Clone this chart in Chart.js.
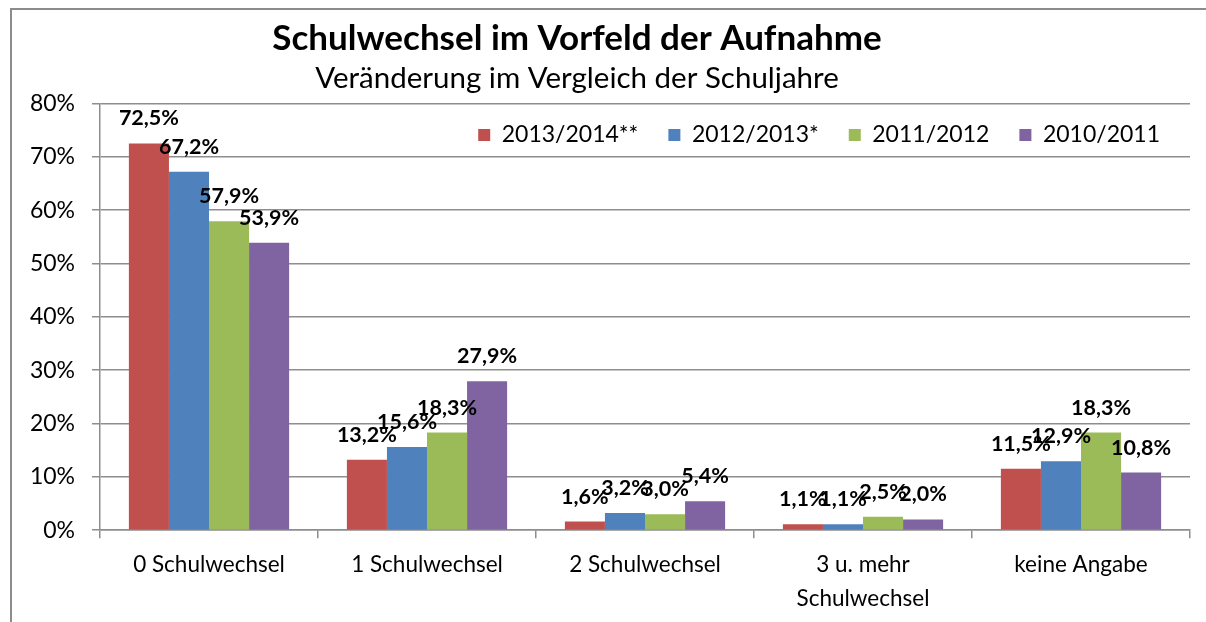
<!DOCTYPE html>
<html lang="de">
<head>
  <meta charset="UTF-8" />
  <title>Schulwechsel im Vorfeld der Aufnahme</title>
  <script src="https://cdn.jsdelivr.net/npm/chart.js"></script>
  <style>
    body {
      margin: 0;
      background: #fff;
      overflow: hidden;
    }
    #wrap {
      position: relative;
      width: 1206px;
      height: 622px;
    }
    #frame {
      position: absolute;
      left: 10px;
      top: 8px;
      width: 1300px;
      height: 700px;
      border-left: 2px solid #8c8c8c;
      border-top: 2px solid #8c8c8c;
      pointer-events: none;
    }
  </style>
</head>
<body>
  <div id="wrap">
    <canvas id="chart" width="1206" height="622"></canvas>
    <div id="frame"></div>
  </div>

  <script>
    const categories = ["0 Schulwechsel", "1 Schulwechsel", "2 Schulwechsel", ["3 u. mehr", "Schulwechsel"], "keine Angabe"];
    const seriesNames = ["2013/2014**", "2012/2013*", "2011/2012", "2010/2011"];
    const values2013_2014 = [72.5, 13.2, 1.6, 1.1, 11.5];
    const values2012_2013 = [67.2, 15.6, 3.2, 1.1, 12.9];
    const values2011_2012 = [57.9, 18.3, 3.0, 2.5, 18.3];
    const values2010_2011 = [53.9, 27.9, 5.4, 2.0, 10.8];
    const yTicks = [0, 10, 20, 30, 40, 50, 60, 70, 80];

    const colors = ["#c0504d", "#4f81bd", "#9bbb59", "#8064a2"];
    const font = "Lato, 'Open Sans', sans-serif";
    const gridColor = "#8e8e8e";

    const fmt = v => v.toFixed(1).replace(".", ",") + "%";

    // legend sits inside the plot area like in the Excel original:
    // reserve only a few pixels for it, then give it its real height back for drawing
    const legendOverlap = {
      id: "legendOverlap",
      beforeLayout(chart) {
        const lg = chart.legend;
        if (lg && !lg._wrapped) {
          const orig = lg.fit;
          lg.fit = function () {
            orig.call(this);
            this._fullHeight = this.height;
            this.height = 10;
          };
          lg._wrapped = true;
        }
      },
      afterLayout(chart) {
        const lg = chart.legend;
        if (lg && lg._fullHeight) {
          lg.height = lg._fullHeight;
          lg.bottom = lg.top + lg._fullHeight;
        }
      }
    };

    const valueLabels = {
      id: "valueLabels",
      afterDatasetsDraw(chart) {
        const ctx = chart.ctx;
        ctx.save();
        ctx.font = "bold 21.5px " + font;
        ctx.fillStyle = "#000";
        ctx.textAlign = "center";
        ctx.textBaseline = "alphabetic";
        chart.data.datasets.forEach((ds, i) => {
          const meta = chart.getDatasetMeta(i);
          meta.data.forEach((bar, j) => {
            ctx.fillText(fmt(ds.data[j]), bar.x, bar.y - 18);
          });
        });
        ctx.restore();
      }
    };

    const seriesValues = [values2013_2014, values2012_2013, values2011_2012, values2010_2011];

    new Chart(document.getElementById("chart"), {
      type: "bar",
      data: {
        labels: categories,
        datasets: seriesNames.map((name, i) => ({
          label: name,
          data: seriesValues[i],
          backgroundColor: colors[i],
          borderWidth: 0,
          categoryPercentage: 0.735,
          barPercentage: 1
        }))
      },
      options: {
        responsive: false,
        animation: false,
        layout: {
          padding: { left: -36, right: 16, top: 0, bottom: -3 }
        },
        plugins: {
          title: {
            display: true,
            text: "Schulwechsel im Vorfeld der Aufnahme",
            color: "#000",
            font: { family: font, size: 35, weight: "bold", lineHeight: 1.0 },
            padding: { top: 21, bottom: 0 }
          },
          subtitle: {
            display: true,
            text: "Veränderung im Vergleich der Schuljahre",
            color: "#000",
            font: { family: font, size: 29.5, weight: "normal", lineHeight: 1.0 },
            padding: { top: 8, bottom: 0 }
          },
          legend: {
            position: "top",
            align: "end",
            labels: {
              boxWidth: 12,
              boxHeight: 12,
              padding: 30,
              color: "#000",
              font: { family: font, size: 23 }
            }
          },
          tooltip: { enabled: false }
        },
        scales: {
          x: {
            grid: {
              display: true,
              drawOnChartArea: false,
              drawTicks: true,
              tickLength: 8,
              color: gridColor,
              lineWidth: 1.5
            },
            border: { display: true, color: gridColor, width: 1.5 },
            ticks: {
              color: "#000",
              padding: 9,
              maxRotation: 0,
              autoSkip: false,
              font: { family: font, size: 22.5, lineHeight: 1.53 }
            }
          },
          y: {
            min: 0,
            max: 80,
            afterBuildTicks(scale) {
              scale.ticks = yTicks.map(v => ({ value: v }));
            },
            afterFit(scale) {
              scale.width = 136;
            },
            grid: {
              color: gridColor,
              lineWidth: 1.5,
              tickLength: 8
            },
            border: { display: true, color: gridColor, width: 1.5 },
            ticks: {
              color: "#000",
              padding: 17,
              font: { family: font, size: 23 },
              callback: v => v + "%"
            }
          }
        }
      },
      plugins: [legendOverlap, valueLabels]
    });
  </script>
</body>
</html>
